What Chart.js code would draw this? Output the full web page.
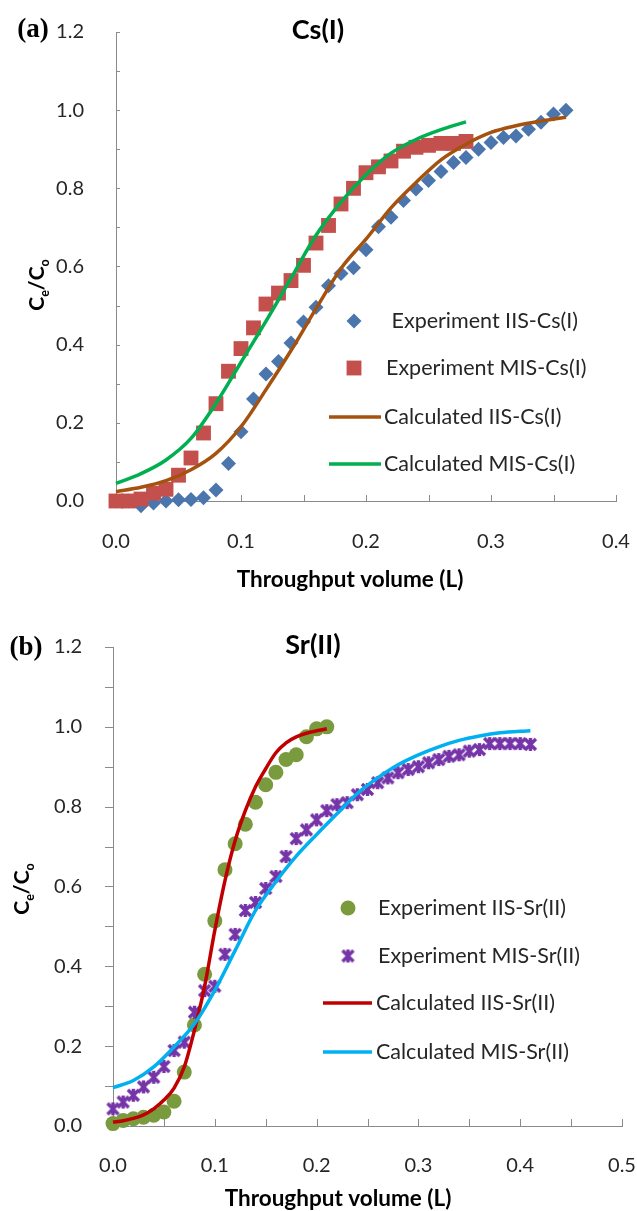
<!DOCTYPE html>
<html>
<head>
<meta charset="utf-8">
<script src="https://cdn.jsdelivr.net/npm/chart.js@4.4.1/dist/chart.umd.min.js"></script>
<style>
  html, body { margin: 0; padding: 0; background: #fff; overflow: hidden; }
  canvas { position: absolute; left: 0; display: block; }
  #chartA { top: 0; }
  #chartB { top: 600px; }
</style>
</head>
<body>
<canvas id="chartA" width="637" height="600"></canvas>
<canvas id="chartB" width="637" height="611"></canvas>
<script>
// ---- data: panel (a) Cs(I) ----
const csIisVol = [0.00, 0.01, 0.02, 0.03, 0.04, 0.05, 0.06, 0.07, 0.08, 0.09, 0.10, 0.11, 0.12, 0.13, 0.14, 0.15, 0.16, 0.17, 0.18,
  0.19, 0.20, 0.21, 0.22, 0.23, 0.24, 0.25, 0.26, 0.27, 0.28, 0.29, 0.30, 0.31, 0.32, 0.33, 0.34, 0.35, 0.36];
const csIisExp = [0.0, 0.0, -0.012, -0.005, 0.0, 0.003, 0.004, 0.008, 0.028, 0.096, 0.177, 0.261, 0.325, 0.357, 0.404, 0.458, 0.496, 0.551, 0.582,
  0.597, 0.643, 0.702, 0.726, 0.769, 0.798, 0.820, 0.843, 0.866, 0.879, 0.900, 0.917, 0.930, 0.934, 0.951, 0.969, 0.990, 1.0];

const csMisVol = [0.00, 0.01, 0.02, 0.03, 0.04, 0.05, 0.06, 0.07, 0.08, 0.09, 0.10, 0.11, 0.12, 0.13, 0.14,
  0.15, 0.16, 0.17, 0.18, 0.19, 0.20, 0.21, 0.22, 0.23, 0.24, 0.25, 0.26, 0.27, 0.28];
const csMisExp = [0.0, 0.0, 0.005, 0.02, 0.03, 0.066, 0.11, 0.174, 0.249, 0.332, 0.390, 0.443, 0.504, 0.532, 0.564,
  0.603, 0.660, 0.705, 0.760, 0.800, 0.840, 0.855, 0.870, 0.895, 0.905, 0.910, 0.915, 0.915, 0.920];

const csIisCalcVol = [0.00, 0.02, 0.04, 0.06, 0.08, 0.10, 0.12, 0.14, 0.16, 0.18, 0.20, 0.22, 0.24, 0.26, 0.28, 0.30, 0.32, 0.34, 0.36];
const csIisCalc = [0.024, 0.035, 0.052, 0.080, 0.122, 0.190, 0.285, 0.385, 0.492, 0.595, 0.670, 0.750, 0.815, 0.873, 0.913, 0.943, 0.960, 0.972, 0.982];

const csMisCalcVol = [0.00, 0.02, 0.04, 0.06, 0.08, 0.10, 0.12, 0.14, 0.16, 0.18, 0.20, 0.22, 0.24, 0.26, 0.28];
const csMisCalc = [0.045, 0.070, 0.105, 0.160, 0.250, 0.355, 0.460, 0.570, 0.680, 0.765, 0.835, 0.890, 0.925, 0.950, 0.970];

// ---- data: panel (b) Sr(II) ----
const srIisVol = [0.00, 0.01, 0.02, 0.03, 0.04, 0.05, 0.06, 0.07, 0.08, 0.09, 0.10, 0.11, 0.12, 0.13, 0.14, 0.15, 0.16,
  0.17, 0.18, 0.19, 0.20, 0.21];
const srIisExp = [0.006, 0.014, 0.018, 0.022, 0.027, 0.035, 0.062, 0.135, 0.253, 0.380, 0.514, 0.642, 0.707, 0.756, 0.811, 0.855, 0.886,
  0.918, 0.930, 0.975, 0.995, 1.0];

const srMisVol = [0.00, 0.01, 0.02, 0.03, 0.04, 0.05, 0.06, 0.07, 0.08, 0.09, 0.10, 0.11, 0.12, 0.13, 0.14, 0.15, 0.16, 0.17, 0.18, 0.19, 0.20,
  0.21, 0.22, 0.23, 0.24, 0.25, 0.26, 0.27, 0.28, 0.29, 0.30, 0.31, 0.32, 0.33, 0.34, 0.35, 0.36, 0.37, 0.38, 0.39, 0.40, 0.41];
const srMisExp = [0.043, 0.060, 0.077, 0.098, 0.122, 0.149, 0.189, 0.210, 0.285, 0.339, 0.350, 0.430, 0.480, 0.540, 0.560, 0.595, 0.625, 0.675, 0.720, 0.742, 0.767,
  0.790, 0.805, 0.810, 0.830, 0.843, 0.860, 0.872, 0.885, 0.893, 0.900, 0.910, 0.918, 0.926, 0.930, 0.939, 0.943, 0.958, 0.958, 0.958, 0.958, 0.956];

const srIisCalcVol = [0.00, 0.01, 0.02, 0.03, 0.04, 0.05, 0.06, 0.07, 0.08, 0.09, 0.10, 0.11, 0.12, 0.13, 0.14, 0.15, 0.16, 0.17, 0.18, 0.19, 0.20, 0.21];
const srIisCalc = [0.010, 0.013, 0.019, 0.028, 0.043, 0.065, 0.095, 0.148, 0.240, 0.350, 0.490, 0.615, 0.715, 0.790, 0.850, 0.895, 0.935, 0.960, 0.975, 0.984, 0.990, 0.995];

const srMisCalcVol = [0.00, 0.02, 0.04, 0.06, 0.08, 0.10, 0.12, 0.14, 0.16, 0.18, 0.20, 0.22, 0.24, 0.26, 0.28, 0.30, 0.32, 0.34, 0.36, 0.38, 0.40, 0.41];
const srMisCalc = [0.096, 0.114, 0.148, 0.198, 0.256, 0.340, 0.440, 0.540, 0.612, 0.676, 0.730, 0.782, 0.833, 0.872, 0.905, 0.930, 0.950, 0.966, 0.977, 0.985, 0.989, 0.990];

const csLabels = [' Experiment IIS-Cs(I)', 'Experiment MIS-Cs(I)', 'Calculated IIS-Cs(I)', 'Calculated MIS-Cs(I)'];
const srLabels = ['Experiment IIS-Sr(II)', 'Experiment MIS-Sr(II)', 'Calculated IIS-Sr(II)', 'Calculated MIS-Sr(II)'];

// ---- look ----
const FONT = 'Lato, "Open Sans", sans-serif';
const AXIS = '#8a8a8a';
const TEXT = '#262626';

const pts = (xs, ys) => xs.map((x, i) => ({ x: x, y: ys[i] }));

// asterisk marker (X plus vertical bar) used for MIS-Sr(II)
function starMarker(color) {
  const c = document.createElement('canvas');
  c.width = 15; c.height = 15;
  const g = c.getContext('2d');
  g.strokeStyle = color;
  g.lineWidth = 3.4;
  g.beginPath();
  g.moveTo(2, 2); g.lineTo(13, 13);
  g.moveTo(13, 2); g.lineTo(2, 13);
  g.moveTo(7.5, 1); g.lineTo(7.5, 14);
  g.stroke();
  return c;
}

// "Ce/Co" with subscripts, rotated
function drawYTitle(ctx, cx, cy, size) {
  const parts = [['C', size, 0], ['e', size * 0.6, size * 0.24], ['/', size, 0], ['C', size, 0], ['o', size * 0.6, size * 0.24]];
  ctx.save();
  ctx.translate(cx, cy);
  ctx.rotate(-Math.PI / 2);
  ctx.fillStyle = '#000';
  ctx.textBaseline = 'alphabetic';
  ctx.textAlign = 'left';
  let total = 0;
  parts.forEach(p => { ctx.font = 'bold ' + p[1] + 'px ' + FONT; total += ctx.measureText(p[0]).width; });
  let x = -total / 2;
  parts.forEach(p => {
    ctx.font = 'bold ' + p[1] + 'px ' + FONT;
    ctx.fillText(p[0], x, size * 0.36 + p[2]);
    x += ctx.measureText(p[0]).width;
  });
  ctx.restore();
}

const decor = {
  id: 'decor',
  // small axis ticks (x every 0.05 pointing up, y every 0.1)
  beforeDatasetsDraw(chart, args, o) {
    const { ctx, chartArea: a, scales: { x, y } } = chart;
    ctx.save();
    ctx.strokeStyle = AXIS;
    ctx.lineWidth = 1;
    ctx.beginPath();
    const nx = Math.round((x.max - x.min) / o.xMinor);
    for (let i = 1; i <= nx; i++) {
      const px = Math.round(x.getPixelForValue(x.min + i * o.xMinor)) + 0.5;
      ctx.moveTo(px, a.bottom);
      ctx.lineTo(px, a.bottom - o.xTickLen);
    }
    const ny = Math.round((y.max - y.min) / o.yMinor);
    for (let j = 1; j <= ny; j++) {
      const py = Math.round(y.getPixelForValue(y.min + j * o.yMinor)) + 0.5;
      ctx.moveTo(a.left, py);
      ctx.lineTo(a.left + o.yTickDir * o.yTickLen, py);
    }
    ctx.stroke();
    ctx.restore();
  },
  afterDraw(chart, args, o) {
    const ctx = chart.ctx;
    ctx.save();
    ctx.textBaseline = 'middle';
    ctx.textAlign = 'center';
    ctx.fillStyle = '#000';
    ctx.font = 'bold ' + o.titleSize + 'px ' + FONT;
    ctx.fillText(o.title, o.titleX, o.titleY);
    ctx.font = 'bold ' + o.panelSize + 'px "Liberation Serif", "Times New Roman", serif';
    ctx.fillText(o.panel, o.panelX, o.panelY);
    ctx.font = 'bold ' + o.xTitleSize + 'px ' + FONT;
    ctx.fillText('Throughput volume (L)', o.xTitleX, o.xTitleY);
    drawYTitle(ctx, o.yTitleX, o.yTitleY, o.yTitleSize);

    // legend inside the plot
    ctx.textAlign = 'left';
    ctx.font = o.legendSize + 'px ' + FONT;
    o.legend.forEach((it, k) => {
      const ds = chart.data.datasets[k];
      const ly = o.legendY[k];
      if (it.line) {
        ctx.strokeStyle = ds.borderColor;
        ctx.lineWidth = ds.borderWidth;
        ctx.beginPath();
        ctx.moveTo(o.lineX0, ly);
        ctx.lineTo(o.lineX1, ly);
        ctx.stroke();
      } else {
        ctx.fillStyle = ds.backgroundColor;
        ctx.strokeStyle = ds.borderColor;
        Chart.helpers.drawPoint(ctx, { pointStyle: ds.pointStyle, radius: ds.pointRadius, rotation: 0, borderWidth: 0 }, o.markX, ly);
      }
      ctx.fillStyle = TEXT;
      ctx.fillText(it.text, it.line ? o.textX - 2 : o.textX, ly);
    });
    ctx.restore();
  }
};

function makeChart(id, cfg) {
  return new Chart(document.getElementById(id), {
    type: 'scatter',
    data: { datasets: cfg.datasets },
    plugins: [decor],
    options: {
      responsive: false,
      animation: false,
      devicePixelRatio: 1,
      layout: { padding: cfg.padding },
      plugins: { legend: { display: false }, tooltip: { enabled: false }, decor: cfg.decor },
      scales: {
        x: {
          type: 'linear', min: 0, max: cfg.xMax,
          grid: { display: false },
          border: { display: true, color: AXIS, width: 1 },
          ticks: { stepSize: 0.1, padding: cfg.xPad, color: TEXT, font: { family: FONT, size: 20 }, callback: v => v.toFixed(1) },
          afterFit: s => { s.height = cfg.xHeight; s.paddingLeft = 0; s.paddingRight = 0; }
        },
        y: {
          type: 'linear', min: 0, max: 1.2,
          grid: { display: false },
          border: { display: true, color: AXIS, width: 1 },
          ticks: { stepSize: 0.2, padding: cfg.yPad, color: TEXT, font: { family: FONT, size: 20 }, callback: v => v.toFixed(1) },
          afterFit: s => { s.width = cfg.yWidth; s.paddingTop = 0; s.paddingBottom = 0; }
        }
      }
    }
  });
}

const lineDs = (label, xs, ys, color, order) => ({
  label: label, data: pts(xs, ys), showLine: true, pointRadius: 0, borderColor: color, backgroundColor: color,
  borderWidth: 3.5, cubicInterpolationMode: 'monotone', clip: false, order: order
});
const markDs = (label, xs, ys, color, style, r, order) => ({
  label: label, data: pts(xs, ys), showLine: false, pointStyle: style, pointRadius: r, pointBorderWidth: 0,
  borderWidth: 0, backgroundColor: color, borderColor: color, clip: false, order: order
});

makeChart('chartA', {
  xMax: 0.4, xPad: 21, yPad: 24, xHeight: 99, yWidth: 116,
  padding: { left: 0, right: 21, top: 32, bottom: 0 },
  datasets: [
    markDs(csLabels[0], csIisVol, csIisExp, '#4a76ad', 'rectRot', 7.5, 3),
    markDs(csLabels[1], csMisVol, csMisExp, '#c3504d', 'rect', 10.5, 2),
    lineDs(csLabels[2], csIisCalcVol, csIisCalc, '#a5520f', 1),
    lineDs(csLabels[3], csMisCalcVol, csMisCalc, '#00b050', 0)
  ],
  decor: {
    title: 'Cs(I)', titleX: 318, titleY: 30, titleSize: 27,
    panel: '(a)', panelX: 33, panelY: 30, panelSize: 27,
    xTitleX: 350, xTitleY: 580, xTitleSize: 22.5,
    yTitleX: 36, yTitleY: 285, yTitleSize: 21,
    xMinor: 0.05, xTickLen: 6, yMinor: 0.1, yTickLen: 4, yTickDir: 1,
    legend: [{ text: csLabels[0] }, { text: csLabels[1] }, { text: csLabels[2], line: true }, { text: csLabels[3], line: true }],
    legendY: [321, 368, 417, 464], legendSize: 21.5,
    markX: 354, lineX0: 329, lineX1: 381, textX: 386
  }
});

makeChart('chartB', {
  xMax: 0.5, xPad: 20, yPad: 23, xHeight: 85, yWidth: 113,
  padding: { left: 0, right: 15, top: 47, bottom: 0 },
  datasets: [
    markDs(srLabels[0], srIisVol, srIisExp, '#7a9a3e', 'circle', 7.5, 3),
    markDs(srLabels[1], srMisVol, srMisExp, '#7534a8', starMarker('#7534a8'), 8, 2),
    lineDs(srLabels[2], srIisCalcVol, srIisCalc, '#c00000', 1),
    lineDs(srLabels[3], srMisCalcVol, srMisCalc, '#00b0f0', 0)
  ],
  decor: {
    title: 'Sr(II)', titleX: 313, titleY: 45, titleSize: 27,
    panel: '(b)', panelX: 26, panelY: 48, panelSize: 27,
    xTitleX: 338, xTitleY: 599, xTitleSize: 22.5,
    yTitleX: 21, yTitleY: 289, yTitleSize: 21,
    xMinor: 0.05, xTickLen: 7, yMinor: 0.1, yTickLen: 8, yTickDir: -1,
    legend: [{ text: srLabels[0] }, { text: srLabels[1] }, { text: srLabels[2], line: true }, { text: srLabels[3], line: true }],
    legendY: [308, 356, 403, 452], legendSize: 21.5,
    markX: 348, lineX0: 323, lineX1: 372, textX: 378
  }
});
</script>
</body>
</html>
